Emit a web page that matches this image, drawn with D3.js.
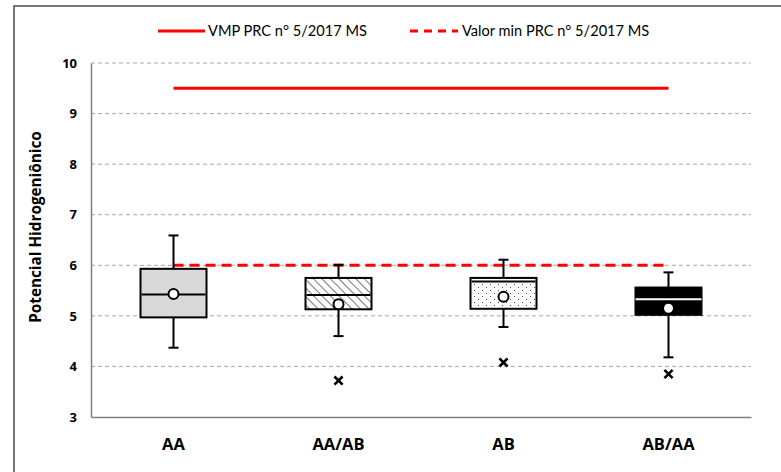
<!DOCTYPE html>
<html><head><meta charset="utf-8">
<script src="https://cdn.jsdelivr.net/npm/d3@7"></script>
<style>body{margin:0;background:#fff}svg{display:block}</style>
</head><body>
<svg id="c" width="781" height="472"></svg>
<script>
const categories = ["AA", "AA/AB", "AB", "AB/AA"];
const whiskerMin = [4.37, 4.60, 4.78, 4.18];
const q1 = [4.97, 5.13, 5.14, 5.02];
const median = [5.42, 5.41, 5.68, 5.33];
const q3 = [5.93, 5.75, 5.75, 5.56];
const whiskerMax = [6.59, 6.01, 6.11, 5.86];
const means = [5.43, 5.23, 5.38, 5.15];
const outliers = [null, 3.72, 4.08, 3.85];
const vmp = 9.5;
const valorMin = 6;
const yTicks = [3, 4, 5, 6, 7, 8, 9, 10];
const legendLabels = ["VMP PRC n° 5/2017 MS", "Valor min PRC n° 5/2017 MS"];

const svg = d3.select("#c");
const defs = svg.append("defs");
const hatch = defs.append("pattern").attr("id","hatch").attr("patternUnits","userSpaceOnUse")
  .attr("width",6).attr("height",6).attr("patternTransform","rotate(-45)");
hatch.append("rect").attr("width",6).attr("height",6).attr("fill","#fff");
hatch.append("line").attr("x1",0).attr("y1",0).attr("x2",0).attr("y2",6).attr("stroke","#555").attr("stroke-width",1.6);
const dots = defs.append("pattern").attr("id","dots").attr("patternUnits","userSpaceOnUse")
  .attr("width",8).attr("height",6);
dots.append("rect").attr("width",8).attr("height",6).attr("fill","#fff");
dots.append("rect").attr("x",2).attr("y",2).attr("width",1).attr("height",1).attr("fill","#444");
dots.append("rect").attr("x",6).attr("y",5).attr("width",1).attr("height",1).attr("fill","#444");

const fills = ["#d9d9d9", "url(#hatch)", "url(#dots)", "#000"];

svg.append("rect").attr("x",14).attr("y",6).attr("width",800).attr("height",500)
  .attr("fill","none").attr("stroke","#555").attr("stroke-width",1.6);

const L = 91, R = 751, T = 63, B = 417;
const x = d3.scaleBand().domain(categories).range([L, R]);
const y = d3.scaleLinear().domain([3, 10]).range([B, T]);

svg.append("g").selectAll("line").data(yTicks.filter(t => t > 3)).join("line")
  .attr("x1", L).attr("x2", R).attr("y1", d => y(d)).attr("y2", d => y(d))
  .attr("stroke", "#a6a6a6").attr("stroke-width", 1).attr("stroke-dasharray", "4,3");

const yAxis = svg.append("g").attr("transform", `translate(${L},0)`)
  .call(d3.axisLeft(y).tickValues(yTicks).tickFormat(d3.format("d")).tickSize(0).tickPadding(14));
yAxis.select(".domain").attr("stroke", "#7f7f7f").attr("stroke-width", 1.5);
yAxis.selectAll("text").attr("font-family","Open Sans, sans-serif").attr("font-weight","bold")
  .attr("font-size", 13).attr("fill","#000");

const xAxis = svg.append("g").attr("transform", `translate(0,${B})`)
  .call(d3.axisBottom(x).tickSize(0).tickPadding(21));
xAxis.select(".domain").attr("stroke", "#7f7f7f").attr("stroke-width", 1.5);
xAxis.selectAll("text").attr("font-family","Open Sans, sans-serif").attr("font-weight","bold")
  .attr("font-size", 16.5).attr("fill","#000");

svg.append("text").attr("transform", `translate(41,227) rotate(-90)`)
  .attr("text-anchor","middle").attr("font-family","Open Sans, sans-serif")
  .attr("font-weight","bold").attr("font-size",15.3).text("Potencial Hidrogeniônico");

const c0 = x(categories[0]) + x.bandwidth()/2, c3 = x(categories[3]) + x.bandwidth()/2;
svg.append("line").attr("x1", c0).attr("x2", c3).attr("y1", y(vmp)).attr("y2", y(vmp))
  .attr("stroke","#ff0000").attr("stroke-width",3);
svg.append("line").attr("x1", c0).attr("x2", c3).attr("y1", y(valorMin)).attr("y2", y(valorMin))
  .attr("stroke","#ff0000").attr("stroke-width",3).attr("stroke-dasharray","10,6");

const bw = 66;
categories.forEach((c, i) => {
  const cx = x(c) + x.bandwidth()/2;
  const g = svg.append("g");
  const dark = i === 3;
  g.append("line").attr("x1",cx).attr("x2",cx).attr("y1",y(whiskerMax[i])).attr("y2",y(q3[i]))
    .attr("stroke","#000").attr("stroke-width",2);
  g.append("line").attr("x1",cx).attr("x2",cx).attr("y1",y(q1[i])).attr("y2",y(whiskerMin[i]))
    .attr("stroke","#000").attr("stroke-width",2);
  [whiskerMax[i], whiskerMin[i]].forEach(v => g.append("line")
    .attr("x1",cx-5).attr("x2",cx+5).attr("y1",y(v)).attr("y2",y(v))
    .attr("stroke","#000").attr("stroke-width",2));
  g.append("rect").attr("x",cx-bw/2).attr("y",y(q3[i])).attr("width",bw)
    .attr("height",y(q1[i]) - y(q3[i])).attr("fill",fills[i])
    .attr("stroke","#000").attr("stroke-width",2);
  g.append("line").attr("x1",cx-bw/2 + (dark?0:1)).attr("x2",cx+bw/2 - (dark?0:1))
    .attr("y1",y(median[i])).attr("y2",y(median[i]))
    .attr("stroke", dark ? "#fff" : "#000").attr("stroke-width", 2);
  g.append("circle").attr("cx",cx).attr("cy",y(means[i])).attr("r", dark ? 4.5 : 5)
    .attr("fill","#fff").attr("stroke", dark ? "none" : "#000").attr("stroke-width",2);
  if (outliers[i] !== null) {
    g.append("path").attr("transform",`translate(${cx},${y(outliers[i])})`)
      .attr("d", d3.symbol(d3.symbolTimes, 45)())
      .attr("fill","none").attr("stroke","#000").attr("stroke-width",2.6);
  }
});

const lg = svg.append("g").attr("font-family","Lato, sans-serif").attr("font-size",14.6);
lg.append("line").attr("x1",158).attr("x2",205).attr("y1",31).attr("y2",31)
  .attr("stroke","#ff0000").attr("stroke-width",3);
lg.append("text").attr("x",208).attr("y",36).text(legendLabels[0]);
lg.append("line").attr("x1",410).attr("x2",458).attr("y1",31).attr("y2",31)
  .attr("stroke","#ff0000").attr("stroke-width",3).attr("stroke-dasharray","8,6");
lg.append("text").attr("x",462).attr("y",36).text(legendLabels[1]);
</script>
</body></html>
